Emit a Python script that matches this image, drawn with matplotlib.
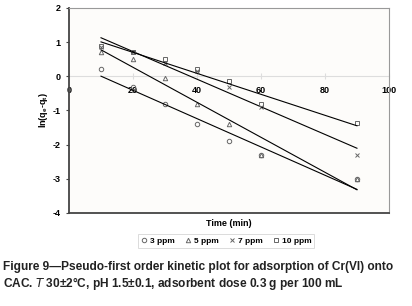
import numpy as np
import matplotlib
matplotlib.use('Agg')
import matplotlib.pyplot as plt

plt.rcParams['font.family'] = ['Liberation Sans', 'DejaVu Sans']

# time (min) and ln(qe-qt) for each initial concentration
time = [10, 20, 30, 40, 50, 60, 90]
ppm3 = [0.2, -0.3, -0.8, -1.4, -1.9, -2.3, -3.0]
ppm5 = [0.7, 0.5, -0.05, -0.8, -1.4, -2.3, -3.0]
ppm7 = [0.85, 0.7, 0.4, 0.15, -0.3, -0.9, -2.3]
ppm10 = [0.9, 0.72, 0.5, 0.22, -0.15, -0.82, -1.38]

series = [('3 ppm', ppm3, 'o'), ('5 ppm', ppm5, '^'),
          ('7 ppm', ppm7, 'x'), ('10 ppm', ppm10, 's')]

xticks = [0, 20, 40, 60, 80, 100]
yticks = [-4, -3, -2, -1, 0, 1, 2]

fig = plt.figure(figsize=(4.12, 3.06), dpi=100)
fig.patch.set_facecolor('white')
ax = fig.add_axes([0.1675, 0.304, 0.7765, 0.670])
ax.set_facecolor('#fdfcfa')

handles = []
for label, vals, m in series:
    h, = ax.plot(time, vals, linestyle='none', marker=m, markersize=3.2,
                 markerfacecolor='none', markeredgecolor='#666666',
                 markeredgewidth=0.7, label=label)
    handles.append(h)
    # linear trendline
    k, b = np.polyfit(time, vals, 1)
    tt = np.array([time[0], time[-1]])
    ax.plot(tt, k * tt + b, color='black', lw=0.8)

ax.set_xlim(0, 100)
ax.set_ylim(-4, 2)
ax.set_xticks([])
ax.set_yticks(yticks)
ax.set_yticklabels([str(v) for v in yticks], fontweight='bold', fontsize=6.5)
ax.tick_params(axis='y', length=2, color='#444444', pad=4)

for s in ['left', 'bottom']:
    ax.spines[s].set_color('#444444')
    ax.spines[s].set_linewidth(1.3)
for s in ['top', 'right']:
    ax.spines[s].set_color('#999999')
    ax.spines[s].set_linewidth(0.8)

# x axis crossing at y = 0
sec = ax.secondary_xaxis(4 / 6)
sec.xaxis.set_ticks_position('bottom')
sec.xaxis.set_label_position('bottom')
sec.set_xticks(xticks)
sec.set_xticklabels([str(v) for v in xticks], fontweight='bold', fontsize=6.5)
for s in ['top', 'bottom']:
    sec.spines[s].set_color('#dddddd')
sec.tick_params(axis='x', direction='inout', length=4, color='#dddddd', pad=5)

ax.set_ylabel('ln(q$_\\mathregular{e}$-q$_\\mathregular{t}$)', fontweight='bold',
              fontsize=6.5, labelpad=2)
ax.set_xlabel('Time (min)', fontweight='bold', fontsize=6.5, labelpad=4)

leg = fig.legend(handles=handles, loc='center', bbox_to_anchor=(0.549, 0.212),
                 ncol=4, frameon=True, fancybox=False,
                 handlelength=0.7, handletextpad=0.4, columnspacing=1.2,
                 borderpad=0.35, prop={'weight': 'bold', 'size': 6})
leg.get_frame().set_edgecolor('#cccccc')
leg.get_frame().set_linewidth(0.6)

fig.text(0.008, 0.128, 'Figure 9\u2014Pseudo-first order kinetic plot for adsorption of Cr(VI) onto',
         fontsize=8.6, fontweight='bold', color='#222222', va='center')
fig.text(0.008, 0.072, 'CAC. $\\mathit{T}$ 30\u00b12\u00b0C, pH 1.5\u00b10.1, adsorbent dose 0.3 g per 100 mL',
         fontsize=8.6, fontweight='bold', color='#222222', va='center')

fig.savefig('out.png', dpi=100)
